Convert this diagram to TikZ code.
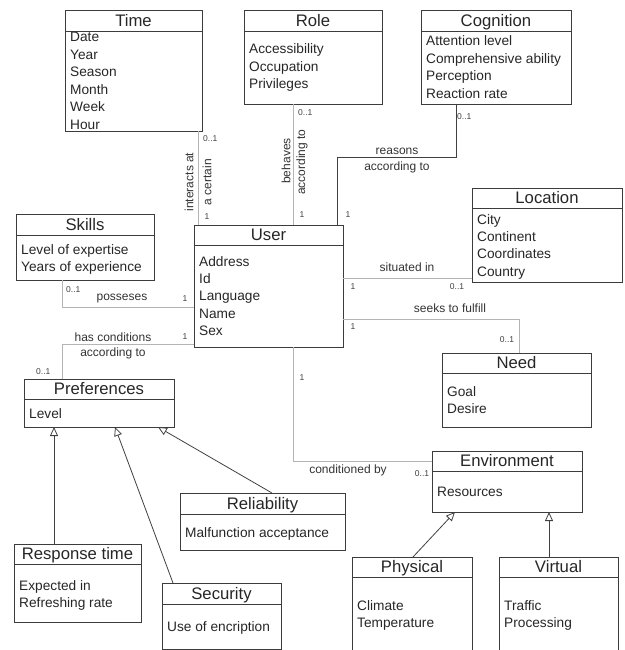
\documentclass[tikz,border=0pt]{standalone}
\usepackage{fontspec}
\setmainfont{Liberation Sans}
\usetikzlibrary{arrows.meta}
\definecolor{boxc}{HTML}{3C3C3C}
\definecolor{assocc}{HTML}{B4B4B4}
\definecolor{linkc}{HTML}{404040}

% UML class: name, x1, y1, x2, y2, separator y, title, first attribute baseline, attributes
\newcommand{\umlclass}[9]{%
  \node[classbox, anchor=north west, minimum width={(#4-#2)*1pt},
        minimum height={(#5-#3)*1pt}] (#1) at (#2,#3) {};
  \draw[classline] (#2,#6) -- (#4,#6);
  \node[classtitle, anchor=base] (#1-title) at ({(#2+#4)/2},#6-4.5) {#7};
  \foreach \attrtext [count=\i] in {#9}
    \node[attr, anchor=base west] (#1-a\i) at (#2+5,{#8+(\i-1)*17.4}) {\attrtext};
}

\begin{document}
\begin{tikzpicture}[x=1pt,y=-1pt,
  classbox/.style={draw=boxc, line width=0.9pt, inner sep=0pt, outer sep=0pt},
  classline/.style={draw=boxc, line width=0.9pt},
  classtitle/.style={font=\fontsize{16.7}{20}\selectfont, inner sep=0pt, text=black!85},
  attr/.style={font=\fontsize{13.7}{17}\selectfont, inner sep=0pt, text=black!85},
  lbl/.style={font=\fontsize{12}{14}\selectfont, inner sep=0pt, text=black!80},
  mult/.style={font=\fontsize{8.5}{10}\selectfont, inner sep=0pt, text=black!75},
  assoc/.style={draw=assocc, line width=0.8pt},
  assocdark/.style={draw=linkc, line width=0.9pt},
  gen/.style={draw=linkc, line width=0.8pt, -{Triangle[open, length=9pt, width=8pt]}}]

\useasboundingbox (0,0) rectangle (624,650);
\clip (0,0) rectangle (624,650);

% classes
\umlclass{time}{65}{10}{202}{131}{31}{Time}{42}{Date,Year,Season,Month,Week,Hour}
\umlclass{role}{244}{10}{382}{104}{31}{Role}{54}{Accessibility,Occupation,Privileges}
\umlclass{cog}{421}{10}{571}{104}{31}{Cognition}{46}{Attention level,Comprehensive ability,Perception,Reaction rate}
\umlclass{loc}{472}{188}{622}{282}{208}{Location}{224}{City,Continent,Coordinates,Country}
\umlclass{skills}{16}{214}{154}{280}{235}{Skills}{254}{Level of expertise,Years of experience}
\umlclass{user}{194}{225}{343}{347}{245}{User}{266}{Address,Id,Language,Name,Sex}
\umlclass{pref}{24}{379}{174}{427}{399}{Preferences}{418}{Level}
\umlclass{need}{442}{353}{591}{427}{373}{Need}{396}{Goal,Desire}
\umlclass{env}{432}{451}{582}{512}{471}{Environment}{496}{Resources}
\umlclass{rel}{180}{493}{345}{550}{514}{Reliability}{537}{Malfunction acceptance}
\umlclass{resp}{14}{544}{141}{622}{564}{Response time}{590}{Expected in,Refreshing rate}
\umlclass{sec}{162}{583}{281}{649}{604}{Security}{631}{Use of encription}
\umlclass{phys}{352}{557}{472}{690}{577}{Physical}{610}{Climate,Temperature}
\umlclass{virt}{499}{557}{618}{690}{577}{Virtual}{610}{Traffic,Processing}

% routing guides
\coordinate (tuX) at (198,0);
\coordinate (ruX) at (293,0);
\coordinate (cgX) at (456,0);
\coordinate (cgB) at (337,157);
\coordinate (skP) at (62,307);
\coordinate (prP) at (62,344);
\coordinate (loP) at (0,278);
\coordinate (neP) at (519,319);
\coordinate (enP) at (293,461);
\coordinate (g1) at (54,0);
\coordinate (g2a) at (173,0);
\coordinate (g2b) at (115,0);
\coordinate (g3a) at (272,0);
\coordinate (g3b) at (158,0);
\coordinate (g4a) at (413,0);
\coordinate (g4b) at (455,0);
\coordinate (g5) at (549,0);

% associations
\draw[assoc] (time.south -| tuX) -- (user.north -| tuX);
\draw[assoc] (role.south -| ruX) -- (user.north -| ruX);
\draw[assocdark] (cog.south -| cgX) |- (cgB) -- (user.north -| cgB);
\draw[assoc] (skills.south -| skP) |- (user.west |- skP);
\draw[assoc] (user.west |- prP) -| (pref.north -| prP);
\draw[assoc] (user.east |- loP) -- (loc.west |- loP);
\draw[assoc] (user.east |- neP) -| (need.north -| neP);
\draw[assoc] (user.south -| enP) |- (env.west |- enP);

% generalizations
\draw[gen] (resp.north -| g1) -- (pref.south -| g1);
\draw[gen] (sec.north -| g2a) -- (pref.south -| g2b);
\draw[gen] (rel.north -| g3a) -- (pref.south -| g3b);
\draw[gen] (phys.north -| g4a) -- (env.south -| g4b);
\draw[gen] (virt.north -| g5) -- (env.south -| g5);

% association labels
\node[lbl, rotate=90] (l-time1) at (189,182) {interacts at};
\node[lbl, rotate=90] (l-time2) at (207,182) {a certain};
\node[mult, anchor=west] (m-time1) at (203,139) {0..1};
\node[mult] (m-time2) at (207,217) {1};

\node[lbl, rotate=90] (l-role1) at (286,161) {behaves};
\node[lbl, rotate=90] (l-role2) at (302,162) {according to};
\node[mult, anchor=west] (m-role1) at (298,113) {0..1};
\node[mult] (m-role2) at (302,215) {1};

\node[lbl] (l-cog1) at (397,151) {reasons};
\node[lbl] (l-cog2) at (397,167) {according to};
\node[mult, anchor=west] (m-cog1) at (457,117) {0..1};
\node[mult] (m-cog2) at (348,215) {1};

\node[lbl] (l-skills) at (122,299) {posseses};
\node[mult, anchor=west] (m-skills1) at (66,290) {0..1};
\node[mult] (m-skills2) at (185,299) {1};

\node[lbl] (l-pref1) at (113,337) {has conditions};
\node[lbl] (l-pref2) at (113,353) {according to};
\node[mult] (m-pref1) at (185,337) {1};
\node[mult, anchor=west] (m-pref2) at (36,372) {0..1};

\node[lbl] (l-loc) at (407,267) {situated in};
\node[mult] (m-loc1) at (353,287) {1};
\node[mult] (m-loc2) at (457,287) {0..1};

\node[lbl] (l-need) at (450,308) {seeks to fulfill};
\node[mult] (m-need1) at (353,327) {1};
\node[mult] (m-need2) at (507,340) {0..1};

\node[mult] (m-env1) at (302,378) {1};
\node[lbl] (l-env) at (348,470) {conditioned by};
\node[mult] (m-env2) at (422,474) {0..1};

\end{tikzpicture}
\end{document}
